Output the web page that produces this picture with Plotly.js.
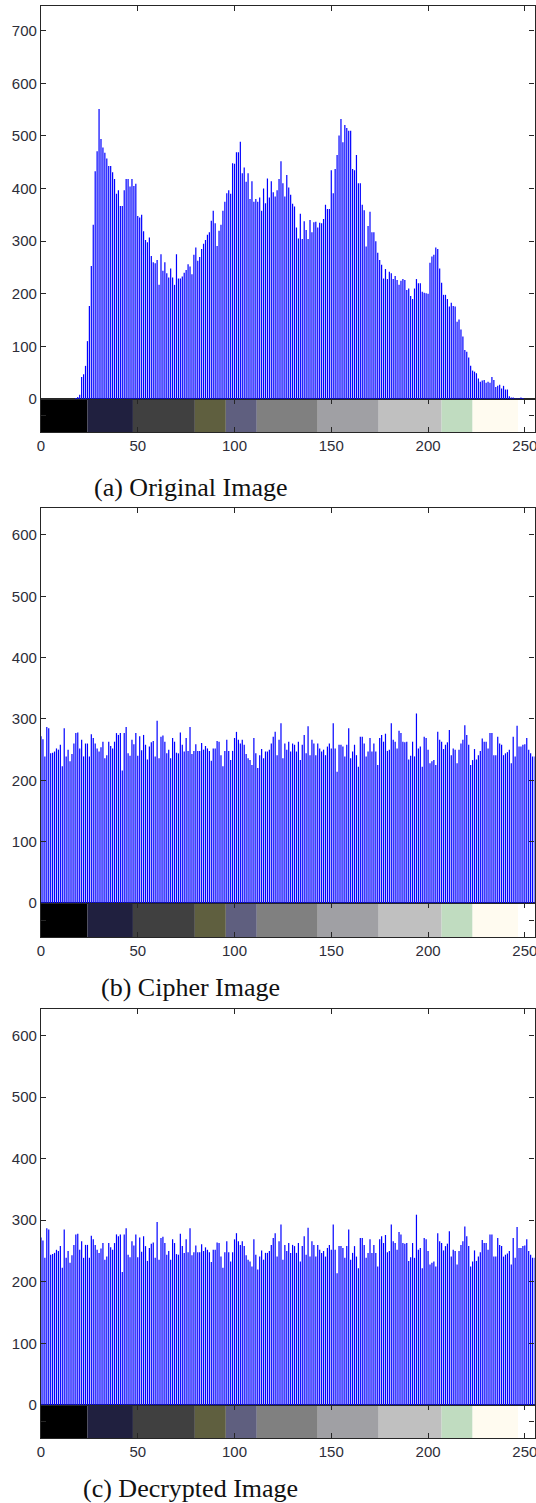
<!DOCTYPE html>
<html><head><meta charset="utf-8">
<script src="https://cdn.plot.ly/plotly-3.0.1.min.js"></script>
<style>html,body{margin:0;padding:0;background:#fff;}#chart{width:536px;height:1503px;}</style>
</head><body><div id="chart"></div>
<script>
// ---- data ----
const grayLevels = [];
for (let i = 0; i < 256; i++) grayLevels.push(i);

const originalCounts = [
  0,0,0,0,0,0,0,0,0,0,
  0,0,0,0,0,0,0,0,2,4,
  8,42,47,63,110,177,253,331,433,471,
  551,494,478,468,457,443,443,431,418,390,
  397,367,367,397,418,418,404,418,405,409,
  348,345,350,319,302,298,307,272,260,258,
  264,217,275,244,260,239,231,248,231,217,
  275,229,229,233,240,245,256,252,237,274,
  288,263,270,285,295,302,312,317,339,358,
  334,291,320,331,358,375,391,397,390,448,
  447,469,469,489,429,440,413,429,380,414,
  375,380,375,383,358,400,372,419,383,414,
  393,385,397,418,452,410,385,426,402,388,
  371,366,326,305,352,304,338,321,304,340,
  317,336,337,326,335,334,342,369,361,361,
  435,391,437,464,501,532,488,521,515,510,
  510,437,435,464,410,410,369,359,290,329,
  356,317,317,300,278,264,255,229,247,228,
  242,239,228,234,226,217,225,228,226,207,
  210,196,190,210,228,220,220,204,202,201,
  200,259,271,274,288,285,248,221,198,198,
  190,176,183,177,176,147,151,132,119,93,
  90,79,63,54,52,49,39,33,35,36,
  31,33,31,42,36,23,25,27,20,25,
  18,18,5,3,3,1,1,1,3,2,
  0,0,0,0,0,0
];

const cipherCounts = [
  272,267,239,287,285,244,245,247,252,250,
  258,
  223,285,239,250,231,243,260,277,278,252,
  266,239,260,260,239,275,269,260,252,247,
  254,
  263,236,241,263,256,252,263,277,274,277,
  216,277,287,244,240,266,259,277,240,272,
  249,
  274,258,234,255,262,264,239,297,236,271,
  273,263,244,250,236,269,263,245,244,278,
  258,247,269,248,287,243,248,259,248,248,
  261,
  250,256,252,248,232,252,252,264,263,241,
  223,248,266,248,233,248,269,279,266,260,
  266,258,243,236,233,225,269,244,220,241,
  251,236,247,247,
  250,260,271,279,241,266,293,236,260,250,
  263,247,260,258,247,263,233,258,274,244,
  288,241,266,260,241,260,252,247,250,241,
  255,
  260,252,293,252,214,258,258,255,239,258,
  285,236,247,258,241,222,271,271,260,239,
  247,269,247,260,247,225,269,274,263,276,
  248,
  250,293,266,263,252,281,277,263,262,263,
  234,240,263,239,309,252,255,222,271,269,
  250,228,231,233,225,279,266,263,251,258,
  262,
  282,241,252,250,228,250,260,266,290,274,
  258,225,233,251,234,241,248,268,263,263,
  252,277,277,241,241,271,260,258,241,244,
  246,
  250,228,271,239,289,255,255,258,259,269,
  250,244,239,239
];

const decryptedCounts = [
  272,267,239,287,285,244,245,247,252,250,
  258,
  223,285,239,250,231,243,260,277,278,252,
  266,239,260,260,239,275,269,260,252,247,
  254,
  263,236,241,263,256,252,263,277,274,277,
  216,277,287,244,240,266,259,277,240,272,
  249,
  274,258,234,255,262,264,239,297,236,271,
  273,263,244,250,236,269,263,245,244,278,
  258,247,269,248,287,243,248,259,248,248,
  261,
  250,256,252,248,232,252,252,264,263,241,
  223,248,266,248,233,248,269,279,266,260,
  266,258,243,236,233,225,269,244,220,241,
  251,236,247,247,
  250,260,271,279,241,266,293,236,260,250,
  263,247,260,258,247,263,233,258,274,244,
  288,241,266,260,241,260,252,247,250,241,
  255,
  260,252,293,252,214,258,258,255,239,258,
  285,236,247,258,241,222,271,271,260,239,
  247,269,247,260,247,225,269,274,263,276,
  248,
  250,293,266,263,252,281,277,263,262,263,
  234,240,263,239,309,252,255,222,271,269,
  250,228,231,233,225,279,266,263,251,258,
  262,
  282,241,252,250,228,250,260,266,290,274,
  258,225,233,251,234,241,248,268,263,263,
  252,277,277,241,241,271,260,258,241,244,
  246,
  250,228,271,239,289,255,255,258,259,269,
  250,244,239,239
];

const xTickVals = [0, 50, 100, 150, 200, 250];
const yTickValsA = [0, 100, 200, 300, 400, 500, 600, 700];
const yTickValsBC = [0, 100, 200, 300, 400, 500, 600];

const cmapEdges = [0, 24, 47.5, 79.5, 95.5, 111.5, 143, 174.5, 207, 223, 246.5, 255];
const cmapColors = ['#000000','#20203f','#404040','#5f5f3f','#5f5f7f','#808080','#a0a0a4','#c0c0c0','#c0dcc0','#fffbf0','#ffffff'];

const captions = ['(a) Original Image', '(b) Cipher Image', '(c) Decrypted Image'];

// ---- layout geometry ----
const W = 536, H = 1503;
const xDom = [41 / W, 534.5 / W];
const panels = [
  {top: 6,    zero: 399,  cbBottom: 432,  ymax: 747, capY: 487,  counts: originalCounts,  yt: yTickValsA},
  {top: 508,  zero: 903,  cbBottom: 937,  ymax: 644, capY: 987,  counts: cipherCounts,    yt: yTickValsBC},
  {top: 1009, zero: 1405, cbBottom: 1438, ymax: 643, capY: 1488, counts: decryptedCounts, yt: yTickValsBC}
];

const cbCenters = [], cbWidths = [], cbOnes = [];
for (let i = 0; i < cmapColors.length; i++) {
  cbCenters.push((cmapEdges[i] + cmapEdges[i + 1]) / 2);
  cbWidths.push(cmapEdges[i + 1] - cmapEdges[i]);
  cbOnes.push(1);
}

// stem segments (imhist draws one vertical line per gray level)
function stems(counts) {
  const sx = [], sy = [];
  for (let i = 0; i < grayLevels.length; i++) {
    if (!counts[i]) continue;
    sx.push(grayLevels[i], grayLevels[i], null);
    sy.push(0, counts[i], null);
  }
  return {sx, sy};
}

const lineCol = '#262626';
const tickFont = {family: 'Liberation Sans, Arial, sans-serif', size: 15, color: '#2d2d38'};
const traces = [];
const layout = {
  width: W, height: H,
  margin: {l: 0, r: 0, t: 0, b: 0},
  paper_bgcolor: '#ffffff', plot_bgcolor: '#ffffff',
  showlegend: false,
  annotations: []
};

function axName(n) { return n === 1 ? '' : String(n); }

panels.forEach((p, k) => {
  const cbXn = 2 * k + 1, mainXn = 2 * k + 2, mainYn = 2 * k + 1, cbYn = 2 * k + 2;
  const cbX = 'x' + axName(cbXn), mainX = 'x' + axName(mainXn);
  const mainY = 'y' + axName(mainYn), cbY = 'y' + axName(cbYn);

  const st = stems(p.counts);
  traces.push({
    type: 'scatter', mode: 'lines', x: st.sx, y: st.sy, connectgaps: false,
    line: {color: '#0000ff', width: 1.2},
    xaxis: mainX, yaxis: mainY, hoverinfo: 'skip'
  });
  traces.push({
    type: 'bar', x: cbCenters, y: cbOnes, width: cbWidths, base: 0,
    marker: {color: cmapColors, line: {width: 0}},
    xaxis: cbX, yaxis: cbY, hoverinfo: 'skip'
  });

  const common = {
    showline: true, linecolor: lineCol, linewidth: 1.2,
    ticks: 'inside', ticklen: 5, tickwidth: 1.2, tickcolor: lineCol,
    showgrid: false, zeroline: false, fixedrange: true
  };
  layout['xaxis' + axName(cbXn)] = Object.assign({}, common, {
    domain: xDom, range: [0, 255], anchor: cbY, mirror: 'ticks',
    tickmode: 'array', tickvals: xTickVals, ticktext: xTickVals.map(String),
    tickfont: tickFont, ticklabeloverflow: 'allow'
  });
  layout['xaxis' + axName(mainXn)] = Object.assign({}, common, {
    domain: xDom, range: [0, 255], anchor: mainY, side: 'top', mirror: true,
    tickmode: 'array', tickvals: xTickVals, showticklabels: false
  });
  layout['yaxis' + axName(mainYn)] = Object.assign({}, common, {
    domain: [1 - p.zero / H, 1 - p.top / H], range: [0, p.ymax], anchor: mainX,
    mirror: 'ticks', tickmode: 'array', tickvals: p.yt, ticktext: p.yt.map(String),
    tickfont: tickFont
  });
  layout['yaxis' + axName(cbYn)] = Object.assign({}, common, {
    domain: [1 - p.cbBottom / H, 1 - p.zero / H], range: [0, 1], anchor: cbX,
    mirror: 'ticks', tickmode: 'array', tickvals: [0.5], showticklabels: false
  });

  layout.annotations.push({
    xref: 'paper', yref: 'paper', x: 190 / W, y: 1 - p.capY / H,
    xanchor: 'center', yanchor: 'middle', showarrow: false,
    text: captions[k],
    font: {family: 'Liberation Serif, Times New Roman, serif', size: 26, color: '#111111'}
  });
});

Plotly.newPlot('chart', traces, layout, {displayModeBar: false, responsive: false});
</script>
</body></html>
